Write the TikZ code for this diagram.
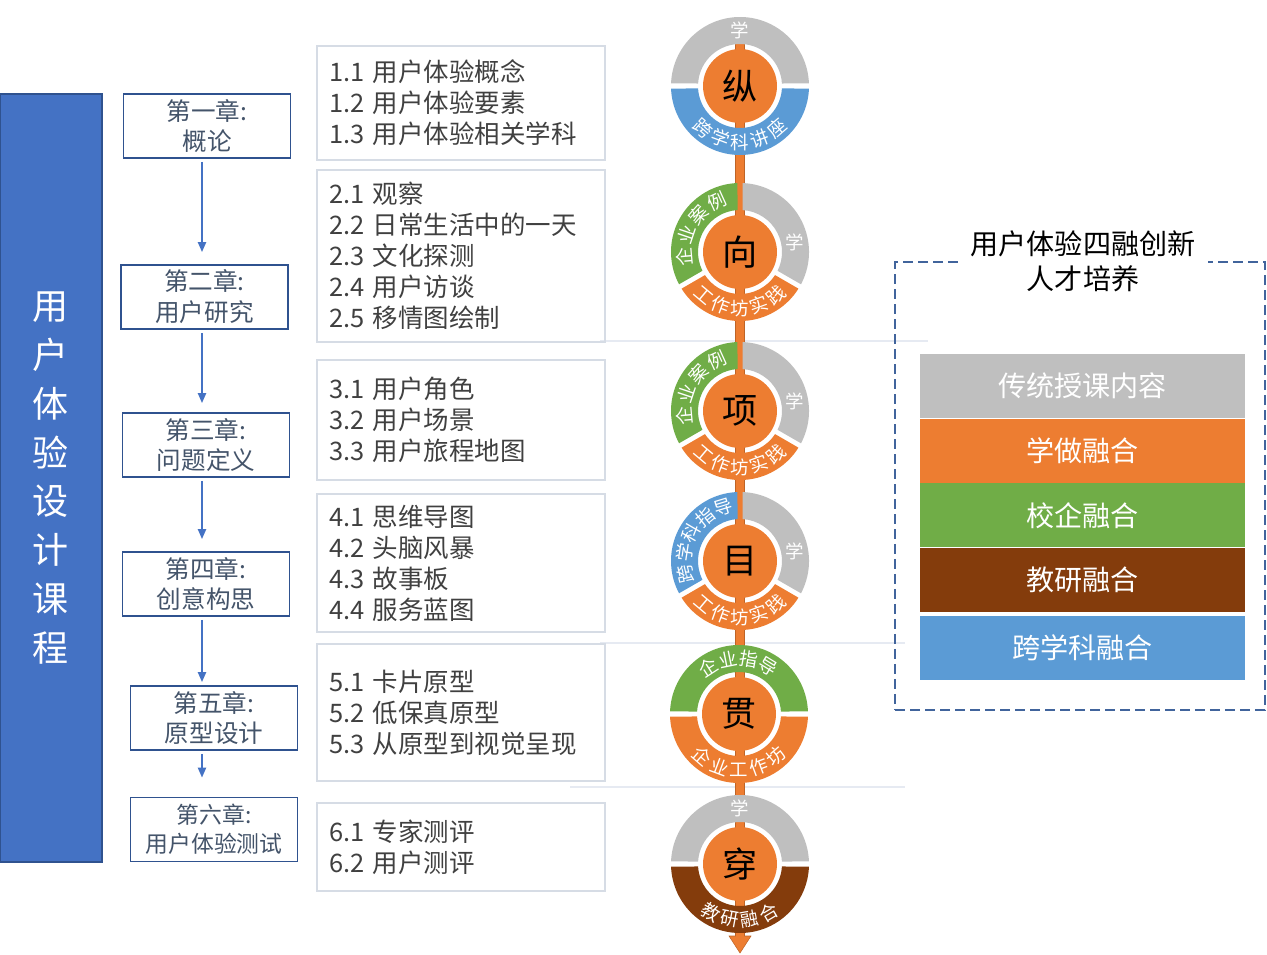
\documentclass[tikz,border=0pt]{standalone}
\usepackage{fontspec}
\setmainfont{Noto Sans CJK SC}
\usetikzlibrary{arrows.meta, calc, positioning}

\definecolor{lgray}{HTML}{BFBFBF}
\definecolor{accent}{HTML}{ED7D31}
\definecolor{leaf}{HTML}{70AD47}
\definecolor{rust}{HTML}{843C0C}
\definecolor{sky}{HTML}{5B9BD5}
\definecolor{navy}{HTML}{4472C4}
\definecolor{navyline}{HTML}{2F528F}
\definecolor{slate}{HTML}{44546A}
\definecolor{ink}{HTML}{404040}
\definecolor{pale}{HTML}{D6DCE5}
\definecolor{faint}{HTML}{E6EAF2}
\definecolor{dashline}{HTML}{41649C}

% ring piece with straight gaps: centre, from, to, colour
\newcommand{\ringseg}[4]{%
  \fill[#4, shift={(#1)}] (#2+2.1:69) arc[start angle=#2+2.1, end angle=#3-2.1, radius=69]
    -- (#3-3.4:42) arc[start angle=#3-3.4, end angle=#2+3.4, radius=42] -- cycle;}

% ring words, tops outward (clockwise): centre, first angle, step, chars
\newcommand{\ringout}[4]{%
  \foreach \ch [count=\i] in {#4}{%
    \pgfmathsetmacro{\ang}{#2-(\i-1)*#3}
    \node[ringtxt, rotate=\ang-90] (#1o\i) at ($(#1)+(\ang:56)$) {\ch};}}
% ring words, tops inward (counter-clockwise)
\newcommand{\ringin}[4]{%
  \foreach \ch [count=\i] in {#4}{%
    \pgfmathsetmacro{\ang}{#2+(\i-1)*#3}
    \node[ringtxt, rotate=\ang+90] (#1i\i) at ($(#1)+(\ang:56)$) {\ch};}}

\begin{document}
\begin{tikzpicture}[
    x=0.02cm, y=0.02cm,
    course/.style={draw=navyline, line width=1pt, fill=navy, text=white, minimum width=2.04cm, minimum height=15.36cm, align=center, font=\fontsize{20.5}{27.8}\selectfont},
    chapter/.style={draw=navyline, line width=1pt, fill=white, text=slate, align=center, minimum width=3.34cm, minimum height=1.28cm, inner sep=0pt, font=\fontsize{14}{17.6}\selectfont},
    topic/.style={draw=pale, line width=1.2pt, text=ink, align=left, text width=5.28cm, inner xsep=0.24cm, font=\fontsize{14.5}{17.6}\selectfont},
    flow/.style={draw=navy, line width=1.2pt, -{Triangle[length=2mm, width=1.6mm]}, shorten <=0.06cm},
    core/.style={circle, fill=accent, minimum size=1.48cm, inner sep=0pt, font=\fontsize{20}{20}\selectfont},
    ringtxt/.style={text=white, inner sep=0pt, font=\fontsize{10.5}{10.5}\selectfont},
    legend/.style={minimum width=6.5cm, minimum height=1.28cm, inner sep=0pt, text=white, font=\fontsize{16}{16}\selectfont}
]
    \useasboundingbox (0,0) rectangle (1267,-955);

    % faint guide lines
    \draw[faint, line width=1pt] (600,-341) -- (928,-341);
    \draw[faint, line width=1pt] (600,-643) -- (905,-643);
    \draw[faint, line width=1pt] (570,-787) -- (905,-787);

    % Course bar
    \node[course] (course) at (51,-478) {用\\户\\体\\验\\设\\计\\课\\程};

    % Chapters
    \node[chapter] (ch1) at (207,-126) {第一章:\\概论};
    \node[chapter] (ch2) at (204.5,-297) {第二章:\\用户研究};
    \node[chapter] (ch3) at (206,-445) {第三章:\\问题定义};
    \node[chapter] (ch4) at (206,-584) {第四章:\\创意构思};
    \node[chapter] (ch5) at (214,-718) {第五章:\\原型设计};
    \node[chapter, font=\fontsize{13}{16.5}\selectfont] (ch6) at (214,-829.5) {第六章:\\用户体验测试};

    \coordinate (spine) at (202,0);
    \draw[flow, shorten >=0.24cm] (ch1.south -| spine) -- (ch2.north -| spine);
    \draw[flow, shorten >=0.18cm] (ch2.south -| spine) -- (ch3.north -| spine);
    \draw[flow, shorten >=0.24cm] (ch3.south -| spine) -- (ch4.north -| spine);
    \draw[flow, shorten >=0.06cm] (ch4.south -| spine) -- (ch5.north -| spine);
    \draw[flow, shorten >=0.38cm] (ch5.south -| spine) -- (ch6.north -| spine);

    % Topics
    \node[topic, minimum height=2.28cm] (t1) at (461,-103) {1.1 用户体验概念\\1.2 用户体验要素\\1.3 用户体验相关学科};
    \node[topic, minimum height=3.44cm] (t2) at (461,-256) {2.1 观察\\2.2 日常生活中的一天\\2.3 文化探测\\2.4 用户访谈\\2.5 移情图绘制};
    \node[topic, minimum height=2.40cm] (t3) at (461,-420) {3.1 用户角色\\3.2 用户场景\\3.3 用户旅程地图};
    \node[topic, minimum height=2.76cm] (t4) at (461,-563) {4.1 思维导图\\4.2 头脑风暴\\4.3 故事板\\4.4 服务蓝图};
    \node[topic, minimum height=2.74cm] (t5) at (461,-712.5) {5.1 卡片原型\\5.2 低保真原型\\5.3 从原型到视觉呈现};
    \node[topic, minimum height=1.76cm] (t6) at (461,-847) {6.1 专家测评\\6.2 用户测评};

    % Spine arrow
    \filldraw[fill=accent, draw=accent!80!black, line width=0.3pt]
        (735.5,-30) -- (744.5,-30) -- (744.5,-936) -- (751,-936) -- (740,-953) -- (729,-936) -- (735.5,-936) -- cycle;

    % Rings
    \coordinate (c1) at (740,-86);
    \coordinate (c2) at (740,-252);
    \coordinate (c3) at (740,-411);
    \coordinate (c4) at (740,-561);
    \coordinate (c5) at (739,-714);
    \coordinate (c6) at (740,-864);

    \ringseg{c1}{0}{180}{lgray}
    \ringseg{c1}{180}{360}{sky}
    \ringseg{c2}{90}{210}{leaf}
    \ringseg{c2}{210}{330}{accent}
    \ringseg{c2}{-30}{90}{lgray}
    \ringseg{c3}{90}{210}{leaf}
    \ringseg{c3}{210}{330}{accent}
    \ringseg{c3}{-30}{90}{lgray}
    \ringseg{c4}{90}{210}{sky}
    \ringseg{c4}{210}{330}{accent}
    \ringseg{c4}{-30}{90}{lgray}
    \ringseg{c5}{0}{180}{leaf}
    \ringseg{c5}{180}{360}{accent}
    \ringseg{c6}{0}{180}{lgray}
    \ringseg{c6}{180}{360}{rust}

    \node[core] (k1) at (c1) {纵};
    \node[core] (k2) at (c2) {向};
    \node[core] (k3) at (c3) {项};
    \node[core] (k4) at (c4) {目};
    \node[core] (k5) at (c5) {贯};
    \node[core] (k6) at (c6) {穿};

    % Ring words
    \node[ringtxt] (s1) at ($(c1)+(90:56)$) {学};
    \ringin{c1}{229}{20.5}{跨,学,科,讲,座}
    \ringout{c2}{185}{23.5}{企,业,案,例}
    \node[ringtxt] (s2) at ($(c2)+(10:56)$) {学};
    \ringin{c2}{230}{20}{工,作,坊,实,践}
    \ringout{c3}{185}{23.5}{企,业,案,例}
    \node[ringtxt] (s3) at ($(c3)+(10:56)$) {学};
    \ringin{c3}{230}{20}{工,作,坊,实,践}
    \ringout{c4}{193}{21.5}{跨,学,科,指,导}
    \node[ringtxt] (s4) at ($(c4)+(10:56)$) {学};
    \ringin{c4}{230}{20}{工,作,坊,实,践}
    \ringout{c5}{123}{21.5}{企,业,指,导}
    \ringin{c5}{229}{20.5}{企,业,工,作,坊}
    \node[ringtxt] (s6) at ($(c6)+(90:56)$) {学};
    \ringin{c6}{239}{20.5}{教,研,融,合}

    % Fusion panel
    \node[draw=dashline, line width=1.1pt, dash pattern=on 0.2cm off 0.1cm, minimum width=7.4cm, minimum height=8.96cm] (panel) at (1080,-486) {};
    \node[fill=white, align=center, inner xsep=0.26cm, font=\fontsize{16}{20}\selectfont] (title) at (1083,-261) {用户体验四融创新\\人才培养};

    \node[legend, fill=lgray] (l1) at (1082.5,-386) {传统授课内容};
    \node[legend, fill=accent, below=0pt of l1] (l2) {学做融合};
    \node[legend, fill=leaf, below=0pt of l2] (l3) {校企融合};
    \node[legend, fill=rust, below=0pt of l3] (l4) {教研融合};
    \node[legend, fill=sky, below=0.06cm of l4] (l5) {跨学科融合};

\end{tikzpicture}
\end{document}
